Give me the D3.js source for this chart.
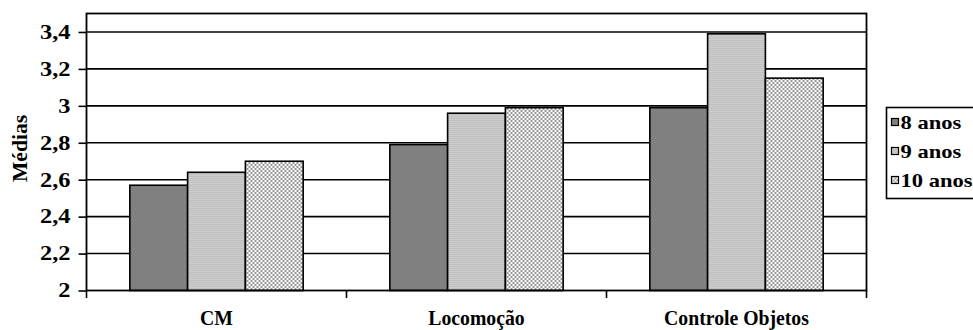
<!DOCTYPE html>
<html>
<head>
<meta charset="utf-8">
<script src="https://cdn.jsdelivr.net/npm/d3@7"></script>
<style>
  html, body { margin: 0; padding: 0; background: #fff; }
  svg { display: block; }
  text { font-family: "Liberation Serif", "Times New Roman", serif; font-weight: bold; fill: #000; }
</style>
</head>
<body>
<svg id="chart" width="973" height="330"></svg>
<script>
const categories = ["CM", "Locomoção", "Controle Objetos"];
const seriesNames = ["8 anos", "9 anos", "10 anos"];
const values8 = [2.57, 2.79, 2.99];
const values9 = [2.64, 2.96, 3.39];
const values10 = [2.70, 2.99, 3.15];
const yTicks = [2, 2.2, 2.4, 2.6, 2.8, 3, 3.2, 3.4];
const yLabel = "Médias";

const seriesValues = [values8, values9, values10];
const fills = ["#808080", "url(#pat9)", "url(#pat10)"];

const svg = d3.select("#chart");
const defs = svg.append("defs");

// 9 anos: fine 1px checker
const p9 = defs.append("pattern").attr("id", "pat9").attr("patternUnits", "userSpaceOnUse")
  .attr("width", 2).attr("height", 2);
p9.append("rect").attr("width", 2).attr("height", 2).attr("fill", "#ffffff");
p9.append("rect").attr("x", 0).attr("y", 0).attr("width", 1).attr("height", 1).attr("fill", "#808080");
p9.append("rect").attr("x", 1).attr("y", 1).attr("width", 1).attr("height", 1).attr("fill", "#9a9a9a");

// 10 anos: coarser 2px checker
const p10 = defs.append("pattern").attr("id", "pat10").attr("patternUnits", "userSpaceOnUse")
  .attr("width", 4).attr("height", 4);
p10.append("rect").attr("width", 4).attr("height", 4).attr("fill", "#ffffff");
p10.append("rect").attr("x", 0).attr("y", 0).attr("width", 2).attr("height", 2).attr("fill", "#969696");
p10.append("rect").attr("x", 2).attr("y", 2).attr("width", 2).attr("height", 2).attr("fill", "#969696");

const x0 = d3.scaleBand().domain(categories).range([86.5, 866.5]).padding(0);
const x1 = d3.scaleBand().domain(seriesNames).range([0, x0.bandwidth()]).paddingInner(0).paddingOuter(0.75);
const y = d3.scaleLinear().domain([2, 3.5]).range([290.5, 13.5]);

// gridlines
svg.append("g").selectAll("line").data(yTicks.filter(t => t > 2)).join("line")
  .attr("x1", 86.5).attr("x2", 866.5)
  .attr("y1", d => y(d)).attr("y2", d => y(d))
  .attr("stroke", "#000").attr("stroke-width", 1.6);

// bars
const groups = svg.append("g").selectAll("g").data(categories).join("g")
  .attr("transform", d => `translate(${x0(d)},0)`);
groups.selectAll("rect").data((c, ci) => seriesNames.map((s, si) => ({ s, si, v: seriesValues[si][ci] })))
  .join("rect")
  .attr("x", d => x1(d.s)).attr("width", x1.bandwidth())
  .attr("y", d => y(d.v)).attr("height", d => y(2) - y(d.v))
  .attr("fill", d => fills[d.si])
  .attr("stroke", "#000").attr("stroke-width", 1.6);

// plot border
svg.append("rect").attr("x", 86.5).attr("y", 13.5).attr("width", 780).attr("height", 277)
  .attr("fill", "none").attr("stroke", "#000").attr("stroke-width", 1.8);

// y axis ticks
const yAxis = d3.axisLeft(y).tickValues(yTicks).tickSize(8).tickFormat("");
const gy = svg.append("g").attr("transform", "translate(86.5,0)").call(yAxis);
gy.select(".domain").remove();
gy.selectAll(".tick line").attr("stroke", "#000").attr("stroke-width", 1.6);
// y tick labels (stretched like reference)
svg.append("g").selectAll("g").data(yTicks).join("g")
  .attr("transform", d => `translate(70.5,${y(d)}) scale(1.22,1)`)
  .append("text").attr("text-anchor", "end").attr("dy", "0.34em").attr("font-size", 20)
  .text(d => d3.format("~g")(d).replace(".", ","));

// x axis: ticks at category boundaries
const boundaries = categories.map(c => x0(c)).concat([x0(categories[categories.length - 1]) + x0.bandwidth()]);
svg.append("g").selectAll("line").data(boundaries).join("line")
  .attr("x1", d => d).attr("x2", d => d).attr("y1", 290.5).attr("y2", 298)
  .attr("stroke", "#000").attr("stroke-width", 1.6);
svg.append("g").selectAll("g").data(categories).join("g")
  .attr("transform", d => `translate(${x0(d) + x0.bandwidth() / 2},324.5) scale(0.94,1)`)
  .append("text").attr("text-anchor", "middle").attr("font-size", 21).text(d => d);

// y label
svg.append("text").attr("transform", "translate(27,148.5) rotate(-90) scale(1.08,1)")
  .attr("text-anchor", "middle").attr("font-size", 20).text(yLabel);

// legend
const lg = svg.append("g").attr("transform", "translate(886.5,107.5)");
lg.append("rect").attr("width", 100).attr("height", 91).attr("fill", "#fff")
  .attr("stroke", "#000").attr("stroke-width", 1.6);
const items = lg.selectAll("g.item").data(seriesNames).join("g").attr("class", "item")
  .attr("transform", (d, i) => `translate(0,${i * 29})`);
items.append("rect").attr("x", 5).attr("y", 11).attr("width", 7).attr("height", 7)
  .attr("fill", (d, i) => fills[i]).attr("stroke", "#000").attr("stroke-width", 1.2);
items.append("g").attr("transform", "translate(14,21.5) scale(1.22,1)")
  .append("text").attr("font-size", 18.5).text(d => d);
</script>
</body>
</html>
